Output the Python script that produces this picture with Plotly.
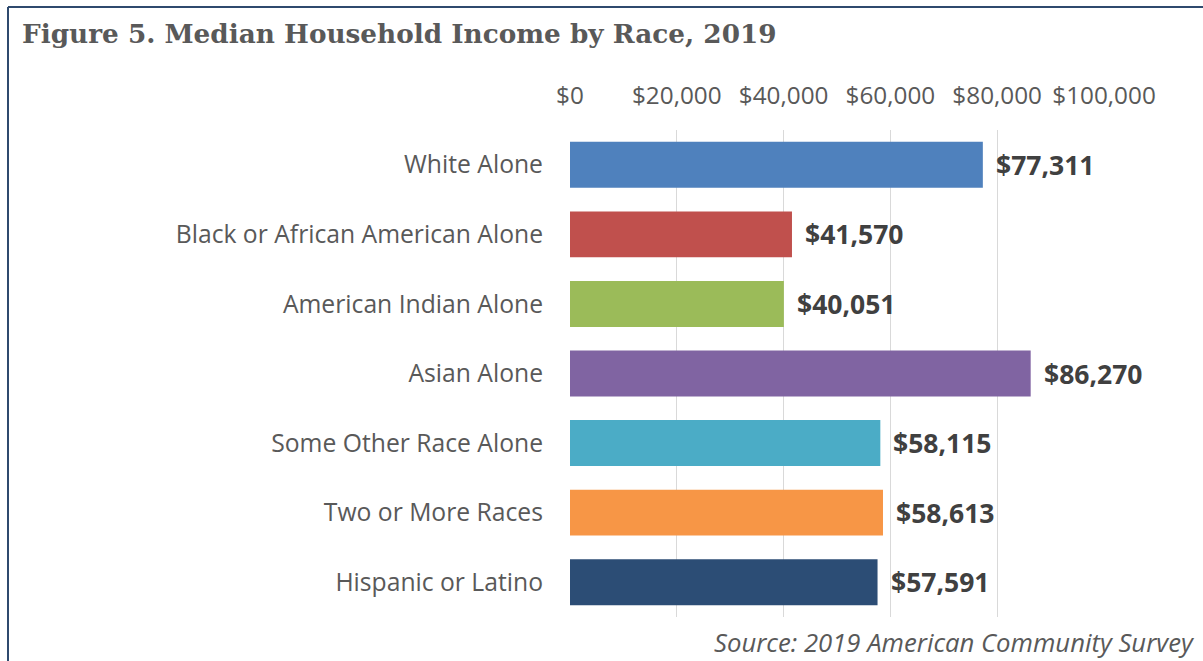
import plotly.graph_objects as go

# Median household income by race, 2019
categories = [
    "White Alone",
    "Black or African American Alone",
    "American Indian Alone",
    "Asian Alone",
    "Some Other Race Alone",
    "Two or More Races",
    "Hispanic or Latino",
]
income = [77311, 41570, 40051, 86270, 58115, 58613, 57591]
bar_colors = ["#4f81bd", "#c0504d", "#9bbb59", "#8064a2", "#4bacc6", "#f79646", "#2c4d75"]
tick_values = [0, 20000, 40000, 60000, 80000, 100000]
tick_labels = ["$0", "$20,000", "$40,000", "$60,000", "$80,000", "$100,000"]

W, H = 1203, 661
L, R, T, B = 570, 99, 130, 44
plot_w = W - L - R
plot_h = H - T - B


def px_x(x):
    return (x - L) / plot_w


def px_y(y):
    return (H - B - y) / plot_h


fig = go.Figure(
    go.Bar(
        x=income,
        y=categories,
        orientation="h",
        marker=dict(color=bar_colors, line=dict(width=0)),
        hoverinfo="skip",
    )
)

# value labels just past the end of each bar
value_labels = [
    dict(
        x=v, y=c, xref="x", yref="y",
        text=f"<b>${v:,.0f}</b>",
        xanchor="left", yanchor="middle",
        xshift=11,
        showarrow=False,
        font=dict(family="Open Sans", size=26.5, color="#404040"),
    )
    for c, v in zip(categories, income)
]

fig.update_layout(
    width=W,
    height=H,
    margin=dict(l=L, r=R, t=T, b=B),
    paper_bgcolor="white",
    plot_bgcolor="white",
    bargap=0.34,
    showlegend=False,
    font=dict(family="Open Sans", color="#595959"),
    xaxis=dict(
        side="top",
        range=[0, 100000],
        tickvals=tick_values,
        ticktext=tick_labels,
        tickfont=dict(size=24.3, color="#595959"),
        showgrid=True,
        gridcolor="#d9d9d9",
        gridwidth=1,
        zeroline=False,
        showline=False,
        ticks="",
        ticklabelstandoff=20,
        fixedrange=True,
    ),
    yaxis=dict(
        autorange="reversed",
        tickfont=dict(size=24.7, color="#595959"),
        showgrid=False,
        zeroline=False,
        showline=False,
        ticks="",
        ticklabelstandoff=26,
        fixedrange=True,
    ),
    annotations=value_labels + [
        dict(
            text="<b>Figure 5. Median Household Income by Race, 2019</b>",
            xref="paper", yref="paper",
            x=px_x(20), y=px_y(33),
            xanchor="left", yanchor="middle",
            showarrow=False,
            font=dict(family="DejaVu Serif", size=26.3, color="#595959"),
        ),
        dict(
            text="<i>Source: 2019 American Community Survey</i>",
            xref="paper", yref="paper",
            x=px_x(1197), y=px_y(642),
            xanchor="right", yanchor="middle",
            showarrow=False,
            font=dict(family="Open Sans", size=25.7, color="#595959"),
        ),
    ],
    shapes=[
        # frame around the figure (left and top edges)
        dict(type="line", xref="paper", yref="paper",
             x0=px_x(8), x1=px_x(8), y0=px_y(7), y1=px_y(H + 5),
             line=dict(color="#2f4a6e", width=2)),
        dict(type="line", xref="paper", yref="paper",
             x0=px_x(8), x1=px_x(W + 5), y0=px_y(7), y1=px_y(7),
             line=dict(color="#2f4a6e", width=2)),
    ],
)

fig.write_html("out.html")
